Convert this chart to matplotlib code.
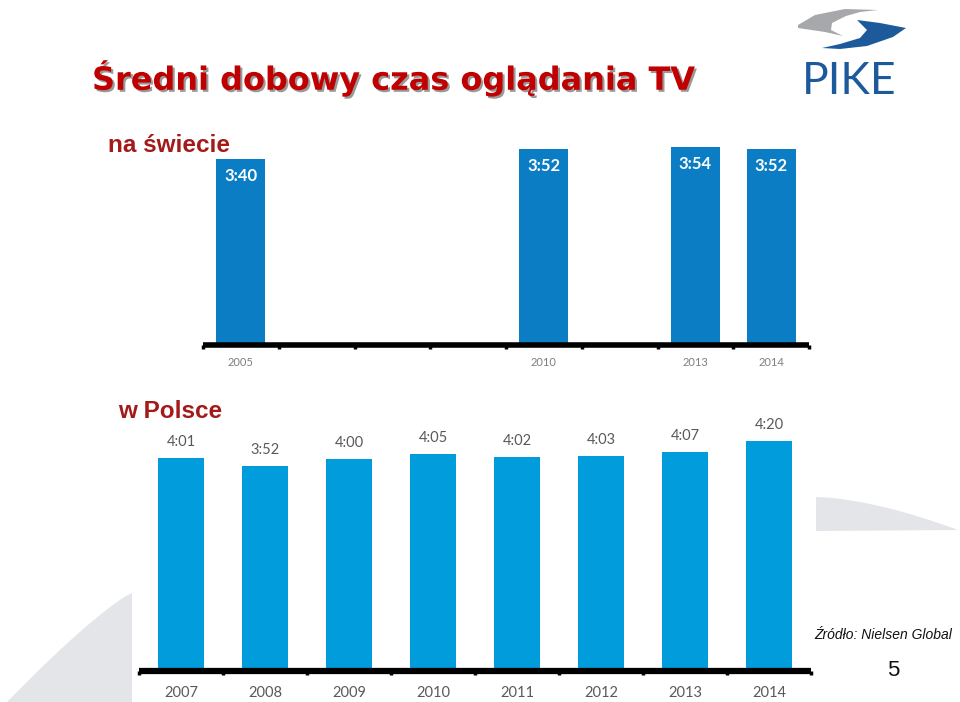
import numpy as np
import matplotlib
matplotlib.use("Agg")
import matplotlib.pyplot as plt
import matplotlib.patheffects as pe
from matplotlib.patches import Polygon

# --- data -------------------------------------------------------------
world_years = ["2005", "", "", "", "2010", "", "2013", "2014"]
world_times = ["3:40", None, None, None, "3:52", None, "3:54", "3:52"]

pl_years = ["2007", "2008", "2009", "2010", "2011", "2012", "2013", "2014"]
pl_times = ["4:01", "3:52", "4:00", "4:05", "4:02", "4:03", "4:07", "4:20"]


def to_min(s):
    if s is None:
        return np.nan
    h, m = s.split(":")
    return int(h) * 60 + int(m)


world_min = np.array([to_min(t) for t in world_times], dtype=float)
pl_min = np.array([to_min(t) for t in pl_times], dtype=float)

W, H = 960, 702
fig = plt.figure(figsize=(W / 100, H / 100), dpi=100)
fig.patch.set_facecolor("white")


def px_axes(x0, y0, x1, y1, **kw):
    # pixel box (top-left origin) -> figure axes
    return fig.add_axes([x0 / W, 1 - y1 / H, (x1 - x0) / W, (y1 - y0) / H], **kw)


# background overlay for shapes / titles
bg = px_axes(0, 0, W, H)
bg.set_xlim(0, W)
bg.set_ylim(H, 0)
bg.axis("off")

# light gray decorative shapes
t = np.linspace(0, 1, 30)
left_curve = np.column_stack([132 - 125 * t ** 0.85, 593 + 109 * t])
bg.add_patch(Polygon(np.vstack([left_curve, [[132, 702]]]), closed=True,
                     fc="#e3e5e8", ec="none", zorder=0))
right_curve = np.column_stack([816 + 142 * t, 497 + 33 * t ** 1.6])
bg.add_patch(Polygon(np.vstack([right_curve, [[816, 531]]]), closed=True,
                     fc="#e3e5e8", ec="none", zorder=0))

# logo
gray_pts = [(798, 25), (815, 15), (845, 9), (878, 10), (860, 12), (846, 16),
            (832, 23), (831, 30), (843, 36), (825, 32), (798, 28)]
blue_pts = [(857, 20), (880, 23), (906, 28), (893, 37), (867, 46), (840, 49),
            (822, 48), (840, 44), (860, 38), (867, 30)]
bg.add_patch(Polygon(gray_pts, closed=True, fc="#a6a8ab", ec="none"))
bg.add_patch(Polygon(blue_pts, closed=True, fc="#1d5a9c", ec="none"))
bg.text(849, 81, "PIKE", ha="center", va="center", fontsize=32,
        color="#1d5a9c", family="Lato")

# titles
bg.text(92, 78, "Średni dobowy czas oglądania TV", ha="left", va="center",
        fontsize=23, fontweight="bold", color="#c00000", family="DejaVu Sans",
        path_effects=[pe.withSimplePatchShadow(offset=(1.5, -1.5),
                                               shadow_rgbFace="#555555", alpha=0.6)])
bg.text(108, 146, "na świecie", ha="left", va="center", fontsize=17.5,
        fontweight="bold", color="#a31a1a", family="Liberation Sans")
bg.text(118, 412, "w Polsce", ha="left", va="center", fontsize=17.5,
        fontweight="bold", color="#a31a1a", family="Liberation Sans")
bg.text(952, 635, "Źródło: Nielsen Global", ha="right", va="center",
        fontsize=10, style="italic", color="#111111", family="Liberation Sans")
bg.text(893, 670, "5", ha="center", va="center", fontsize=16,
        color="#111111", family="Liberation Sans")


def style_axes(ax, lw, label_size, label_color, pad):
    for s in ["top", "right", "left"]:
        ax.spines[s].set_visible(False)
    ax.spines["bottom"].set_linewidth(lw)
    ax.spines["bottom"].set_capstyle("butt")
    ax.set_yticks([])
    ax.set_xlim(-0.5, 7.5)
    ax.set_xticks(np.arange(-0.5, 8, 1), minor=True)
    ax.tick_params(axis="x", which="minor", length=3, width=2.5, color="black")
    ax.tick_params(axis="x", which="major", length=0, pad=pad,
                   labelsize=label_size, labelcolor=label_color)
    ax.patch.set_alpha(0)
    for lab in ax.get_xticklabels():
        lab.set_family("Lato")


# --- world chart ------------------------------------------------------
ax1 = px_axes(203, 140, 809, 345)
x1 = np.arange(len(world_years))
ax1.bar(x1, world_min, width=0.65, color="#0a7dc4", zorder=2)
ax1.set_ylim(0, 242.6)
ax1.set_xticks(x1)
ax1.set_xticklabels(world_years)
style_axes(ax1, 4, 8, "#7f7f7f", 9)
for xi, v, lab in zip(x1, world_min, world_times):
    if lab is not None:
        ax1.text(xi, v - 20, lab, ha="center", va="center", fontsize=12,
                 fontweight="bold", color="white", family="Lato", zorder=3)

# --- Poland chart -----------------------------------------------------
ax2 = px_axes(139, 420, 811, 671)
x2 = np.arange(len(pl_years))
ax2.bar(x2, pl_min, width=0.54, color="#009cdb", zorder=2)
ax2.set_ylim(0, 283.6)
ax2.set_xticks(x2)
ax2.set_xticklabels(pl_years)
style_axes(ax2, 4.5, 10.5, "#595959", 11)
for xi, v, lab in zip(x2, pl_min, pl_times):
    ax2.text(xi, v + 18, lab, ha="center", va="center", fontsize=10.5,
             color="#595959", family="Lato", zorder=3)

fig.savefig("out.png", dpi=100)
